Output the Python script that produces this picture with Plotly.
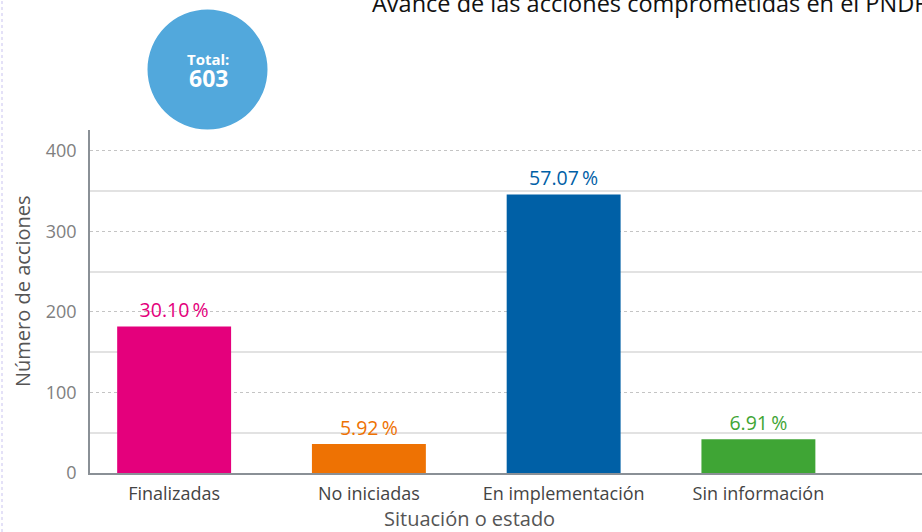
import plotly.graph_objects as go

categories = ["Finalizadas", "No iniciadas", "En implementación", "Sin información"]
values = [182, 36, 346, 42]
pct_labels = ["30.10\u2009%", "5.92\u2009%", "57.07\u2009%", "6.91\u2009%"]
colors = ["#E4007C", "#EE7203", "#0060A6", "#3FA535"]
total_label = "603"
title_text = "Avance de las acciones comprometidas en el PNDF"
x_title = "Situación o estado"
y_title = "Número de acciones"

FONT = "Open Sans"

fig = go.Figure(go.Bar(
    x=categories, y=values, marker=dict(color=colors, line=dict(width=0)),
    width=0.585, text=pct_labels, textposition="outside",
    textfont=dict(family=FONT, size=19.5, color=colors), cliponaxis=False,
))

# pixel geometry helpers
L, R, T, B = 90, 0, 130, 59
W, H = 922, 532
pw, ph = W - L - R, H - T - B

def px_x(x):
    return (x - L) / pw

def px_y(y):
    return (H - B - y) / ph

fig.update_layout(
    width=W, height=H, margin=dict(l=L, r=R, t=T, b=B),
    plot_bgcolor="white", paper_bgcolor="white", showlegend=False,
    font=dict(family=FONT),
    bargap=0.415,
    xaxis=dict(
        range=[-0.432, 3.84], showgrid=False, showline=True, linecolor="#8a9096", linewidth=1.5,
        tickfont=dict(family=FONT, size=18, color="#444444"), ticks="", ticklabelstandoff=4,
    ),
    yaxis=dict(
        range=[0, 426], tickvals=[0, 100, 200, 300, 400], showline=True, linecolor="#8a9096", linewidth=1.5,
        showgrid=True, gridcolor="#c4c4c4", griddash="dot", gridwidth=1, zeroline=False,
        tickfont=dict(family=FONT, size=18, color="#808080"), ticks="", ticklabelstandoff=8,
        minor=dict(tickvals=[50, 150, 250, 350], showgrid=True, gridcolor="#e2e2e2", griddash="solid", gridwidth=1.5),
    ),
    shapes=[
        dict(type="circle", xref="paper", yref="paper", xsizemode="pixel", ysizemode="pixel",
             xanchor=px_x(207.5), yanchor=px_y(69.5), x0=-60, x1=60, y0=-60, y1=60,
             fillcolor="#52A8DC", line=dict(width=0), layer="above"),
        dict(type="line", xref="paper", yref="paper", x0=px_x(2), x1=px_x(2), y0=px_y(532), y1=px_y(0),
             line=dict(color="#c9c3f0", width=1, dash="dot")),
    ],
    annotations=[
        dict(text="<b>Total:</b>", xref="paper", yref="paper", x=px_x(208), y=px_y(59),
             showarrow=False, font=dict(family=FONT, size=15, color="white"), xanchor="center", yanchor="middle"),
        dict(text="<b>" + total_label + "</b>", xref="paper", yref="paper", x=px_x(208), y=px_y(78),
             showarrow=False, font=dict(family=FONT, size=23, color="white"), xanchor="center", yanchor="middle"),
        dict(text=title_text, xref="paper", yref="paper", x=px_x(370), y=px_y(3),
             showarrow=False, font=dict(family=FONT, size=23.5, color="#111111"), xanchor="left", yanchor="middle"),
        dict(text=x_title, xref="paper", yref="paper", x=px_x(469), y=px_y(518.5),
             showarrow=False, font=dict(family=FONT, size=20, color="#555555"), xanchor="center", yanchor="middle"),
        dict(text=y_title, xref="paper", yref="paper", x=px_x(22), y=px_y(291), textangle=-90,
             showarrow=False, font=dict(family=FONT, size=20, color="#555555"), xanchor="center", yanchor="middle"),
    ],
)

fig.write_html(
    "out.html",
    config={"displayModeBar": False},
    post_script=("document.body.style.margin='0px';document.body.style.overflow='hidden';"
                 "document.documentElement.style.overflow='hidden';"),
)
